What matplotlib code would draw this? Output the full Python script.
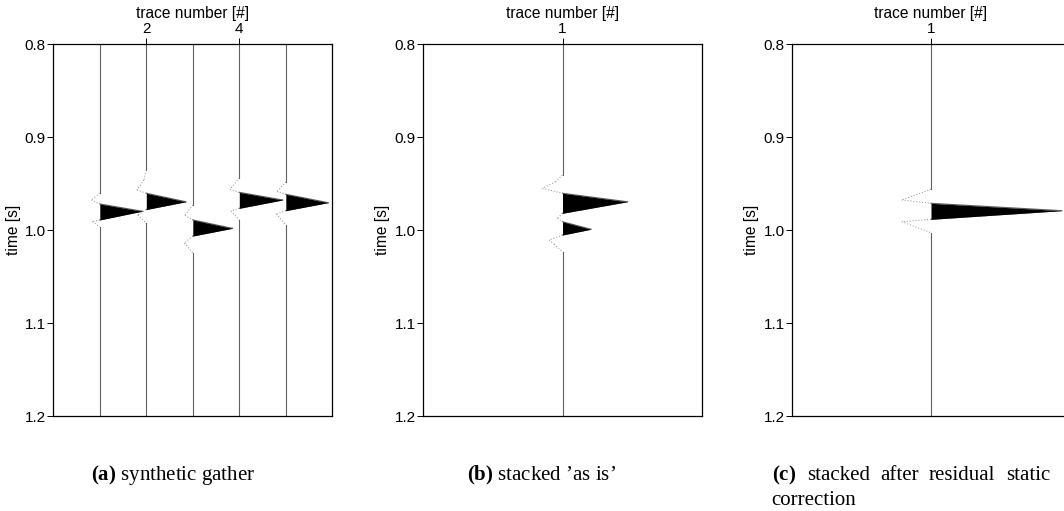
import matplotlib
matplotlib.use("Agg")
import matplotlib.pyplot as plt
import numpy as np

plt.rcParams['font.family'] = ['Liberation Sans', 'DejaVu Sans']
plt.rcParams['mathtext.fontset'] = 'custom'
plt.rcParams['mathtext.rm'] = 'Liberation Serif'
plt.rcParams['mathtext.bf'] = 'Liberation Serif:bold'

# time window of every panel [s]
T_TOP = 0.8
T_BOTTOM = 1.2
TIME_TICKS = [0.8, 0.9, 1.0, 1.1, 1.2]

# synthetic gather: wavelet key points per trace (time [s], amplitude [trace units])
GATHER_TIMES = [
    [0.9605, 0.9677, 0.9720, 0.9798, 0.9892, 0.9911, 0.9965],
    [0.9355, 0.9462, 0.9570, 0.9605, 0.9696, 0.9780, 0.9839, 0.9928],
    [0.9731, 0.9844, 0.9892, 0.9982, 1.0065, 1.0140, 1.0247],
    [0.9441, 0.9562, 0.9595, 0.9677, 0.9767, 0.9796, 0.9892],
    [0.9481, 0.9588, 0.9616, 0.9706, 0.9792, 0.9828, 0.9946],
]
GATHER_AMPS = [
    [0.0, -0.18, 0.0, 0.91, 0.0, -0.16, 0.0],
    [0.0, -0.05, -0.20, 0.0, 0.85, 0.0, -0.18, 0.0],
    [0.0, -0.17, 0.0, 0.85, 0.0, -0.18, 0.0],
    [0.0, -0.20, 0.0, 0.93, 0.0, -0.18, 0.0],
    [0.0, -0.19, 0.0, 0.91, 0.0, -0.20, 0.0],
]
GATHER_TICKS = [2, 4]

# stack 'as is'
STACK_TIMES = [0.9409, 0.9481, 0.9552, 0.9605, 0.9696, 0.9820, 0.9874,
               0.9911, 0.9992, 1.0054, 1.0108, 1.0151, 1.0233]
STACK_AMPS = [0.0, -0.05, -0.144, 0.0, 0.465, 0.0, -0.036,
              0.0, 0.203, 0.0, -0.096, -0.06, 0.0]

# stack after residual static correction
CORR_TIMES = [0.9562, 0.9677, 0.9713, 0.9792, 0.9885, 0.9911, 1.0029]
CORR_AMPS = [0.0, -0.21, 0.0, 0.94, 0.0, -0.21, 0.0]

TRACE_COLOR = '#606060'
DOT_COLOR = '#8c8c8c'
FIG_W, FIG_H = 1064, 511


def draw_wiggle(ax, x0, times, amps):
    t = np.array([T_TOP] + list(times) + [T_BOTTOM])
    a = np.array([0.0] + list(amps) + [0.0])
    # positive lobes filled black
    ax.fill_betweenx(t, x0, x0 + np.maximum(a, 0), color='black', lw=0, zorder=3)
    # negative lobes dotted, rest solid
    for i in range(len(t) - 1):
        seg_a = a[i:i + 2]
        neg = seg_a.min() < 0 and seg_a.max() <= 0
        if neg:
            ax.plot(x0 + seg_a, t[i:i + 2], color=DOT_COLOR, lw=0.7,
                    ls=(0, (1, 2)), zorder=2)
        else:
            ax.plot(x0 + seg_a, t[i:i + 2], color=TRACE_COLOR, lw=0.8, zorder=2)


def make_axes(fig, left_px, width_px, n_traces, xticks):
    top_px, bottom_px = 44, 416
    ax = fig.add_axes([left_px / FIG_W, (FIG_H - bottom_px) / FIG_H,
                       width_px / FIG_W, (bottom_px - top_px) / FIG_H])
    ax.set_xlim(0, n_traces + 1)
    ax.set_ylim(T_BOTTOM, T_TOP)
    ax.xaxis.tick_top()
    ax.xaxis.set_label_position('top')
    ax.set_xticks(xticks)
    ax.set_yticks(TIME_TICKS)
    ax.set_yticklabels([f'{v:.1f}' for v in TIME_TICKS])
    ax.tick_params(direction='out', length=4.3, width=0.7, labelsize=11, pad=1)
    ax.tick_params(axis='x', pad=1.2)
    ax.set_xlabel('trace number [#]', fontsize=11.2, labelpad=3.5)
    ax.set_ylabel('time [s]', fontsize=11.2, labelpad=3)
    for sp in ax.spines.values():
        sp.set_linewidth(0.9)
    return ax


fig = plt.figure(figsize=(FIG_W / 100, FIG_H / 100), dpi=100)

ax_a = make_axes(fig, 53.3, 279, len(GATHER_TIMES), GATHER_TICKS)
for k, (tt, aa) in enumerate(zip(GATHER_TIMES, GATHER_AMPS)):
    draw_wiggle(ax_a, k + 1, tt, aa)

ax_b = make_axes(fig, 423, 279, 1, [1])
draw_wiggle(ax_b, 1, STACK_TIMES, STACK_AMPS)

ax_c = make_axes(fig, 792, 278, 1, [1])
draw_wiggle(ax_c, 1, CORR_TIMES, CORR_AMPS)

# captions
cap = dict(fontsize=15, family='Liberation Serif', va='baseline')
fig.text(173 / FIG_W, 1 - 480 / FIG_H, r'$\mathbf{(a)}$ synthetic gather', ha='center', **cap)
fig.text(542 / FIG_W, 1 - 480 / FIG_H, r"$\mathbf{(b)}$ stacked ’as is’", ha='center', **cap)
# justified first line of caption (c)
line_words = [(771.7, r'$\mathbf{(c)}$', 'left'), (806.7, 'stacked', 'left'),
              (880, 'after', 'left'), (928.3, 'residual', 'left'),
              (1050, 'static', 'right')]
for xp, w, h in line_words:
    fig.text(xp / FIG_W, 1 - 480 / FIG_H, w, ha=h, **cap)
fig.text(771.7 / FIG_W, 1 - 505 / FIG_H, 'correction', ha='left', **cap)

fig.savefig('out.png', dpi=100)
